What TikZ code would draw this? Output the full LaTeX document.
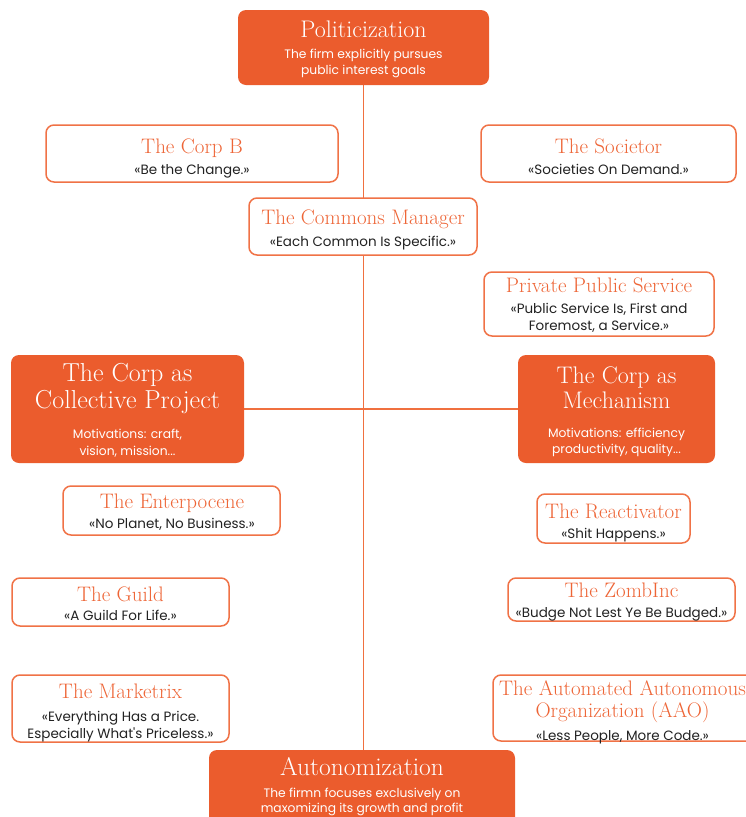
\documentclass[tikz,border=0pt]{standalone}
\usepackage{fontspec}
\newfontfamily\subf{Poppins}
\usetikzlibrary{backgrounds}
\definecolor{org}{HTML}{EB5C2D}
\definecolor{brd}{HTML}{F07246}
\definecolor{ttlc}{HTML}{EE6536}
\definecolor{txtc}{HTML}{222222}
\definecolor{lnc}{HTML}{F0703F}
\tikzset{
  wbox/.style={draw=brd, line width=1.5pt, fill=white, rounded corners=8pt, inner sep=0pt},
  obox/.style={fill=org, draw=none, rounded corners=8pt, inner sep=0pt},
  ttl/.style={anchor=base, inner sep=0pt, text=ttlc, font=\fontsize{21}{24}\selectfont},
  sub/.style={anchor=base, inner sep=0pt, text=txtc, font=\subf\fontsize{13.5}{15}\selectfont},
  wttl/.style={anchor=base, inner sep=0pt, text=white, font=\fontsize{24}{27}\selectfont},
  bttl/.style={anchor=base, inner sep=0pt, text=white, font=\fontsize{26}{29}\selectfont},
  wsub/.style={anchor=base, inner sep=0pt, text=white, font=\subf\fontsize{12.3}{14}\selectfont},
  conn/.style={draw=lnc, line width=1.5pt}
}
\begin{document}
\begin{tikzpicture}[x=1pt,y=-1pt]
\useasboundingbox (0,0) rectangle (746,817);
% boxes
\node[obox, minimum width=251pt, minimum height=75pt] (pol) at (363.5,47.5) {};
\node[wbox, minimum width=292pt, minimum height=57pt] (corpb) at (192,153.5) {};
\node[wbox, minimum width=255pt, minimum height=57pt] (soc) at (608.5,153.5) {};
\node[wbox, minimum width=228pt, minimum height=57pt] (com) at (363,226.5) {};
\node[wbox, minimum width=230pt, minimum height=64pt] (pps) at (599,304) {};
\node[obox, minimum width=233pt, minimum height=108pt] (coll) at (127.5,409) {};
\node[obox, minimum width=197pt, minimum height=108pt] (mech) at (616.5,409) {};
\node[wbox, minimum width=217pt, minimum height=49pt] (ent) at (171.5,510.5) {};
\node[wbox, minimum width=153pt, minimum height=49pt] (react) at (613.5,518.5) {};
\node[wbox, minimum width=217pt, minimum height=48pt] (guild) at (120.5,602) {};
\node[wbox, minimum width=227pt, minimum height=43pt] (zomb) at (621.5,599.5) {};
\node[wbox, minimum width=217pt, minimum height=67pt] (mkt) at (120.5,708.5) {};
\node[wbox, minimum width=265pt, minimum height=66pt] (aao) at (625.5,708) {};
\node[obox, minimum width=306pt, minimum height=80pt] (auto) at (362,790) {};
% connectors
\begin{scope}[on background layer]
\draw[conn] (pol.south) -- (pol.south |- auto.north);
\draw[conn] (coll.east) -- (mech.west);
\end{scope}
% texts
\node[wttl] (pol-t) at (363.5,37) {Politicization};
\node[wsub] (pol-s1) at (363.5,58) {The firm explicitly pursues};
\node[wsub] (pol-s2) at (363.5,74) {public interest goals};
\node[ttl] (corpb-t) at (192,153) {The Corp B};
\node[sub] (corpb-s) at (192,174) {«Be the Change.»};
\node[ttl] (soc-t) at (608.5,153) {The Societor};
\node[sub] (soc-s) at (608.5,174) {«Societies On Demand.»};
\node[ttl] (com-t) at (363,224.5) {The Commons Manager};
\node[sub] (com-s) at (363,246) {«Each Common Is Specific.»};
\node[ttl] (pps-t) at (599,292) {Private Public Service};
\node[sub] (pps-s1) at (599,313) {«Public Service Is, First and};
\node[sub] (pps-s2) at (599,330) {Foremost, a Service.»};
\node[bttl] (coll-t1) at (127.5,381) {The Corp as};
\node[bttl] (coll-t2) at (127.5,408) {Collective Project};
\node[wsub] (coll-s1) at (127.5,438) {Motivations: craft,};
\node[wsub] (coll-s2) at (127.5,455) {vision, mission...};
\node[wttl] (mech-t1) at (616.5,383) {The Corp as};
\node[wttl] (mech-t2) at (616.5,408) {Mechanism};
\node[wsub] (mech-s1) at (616.5,437) {Motivations: efficiency};
\node[wsub] (mech-s2) at (616.5,453) {productivity, quality...};
\node[ttl] (ent-t) at (172,508) {The Enterpocene};
\node[sub] (ent-s) at (172,528) {«No Planet, No Business.»};
\node[ttl] (react-t) at (613.5,518) {The Reactivator};
\node[sub] (react-s) at (613.5,538) {«Shit Happens.»};
\node[ttl] (guild-t) at (120.5,601) {The Guild};
\node[sub] (guild-s) at (120.5,620) {«A Guild For Life.»};
\node[ttl] (zomb-t) at (621.5,597) {The ZombInc};
\node[sub] (zomb-s) at (621.5,617) {«Budge Not Lest Ye Be Budged.»};
\node[ttl] (mkt-t) at (120.5,698) {The Marketrix};
\node[sub] (mkt-s1) at (120.5,721) {«Everything Has a Price.};
\node[sub] (mkt-s2) at (120.5,738) {Especially What's Priceless.»};
\node[ttl] (aao-t1) at (622.5,695) {The Automated Autonomous};
\node[ttl] (aao-t2) at (622.5,717) {Organization (AAO)};
\node[sub] (aao-s) at (622.5,740) {«Less People, More Code.»};
\node[wttl, font=\fontsize{25.5}{28}\selectfont] (auto-t) at (362,775) {Autonomization};
\node[wsub] (auto-s1) at (362,797) {The firmn focuses exclusively on};
\node[wsub] (auto-s2) at (362,812) {maxomizing its growth and profit};
\end{tikzpicture}
\end{document}
